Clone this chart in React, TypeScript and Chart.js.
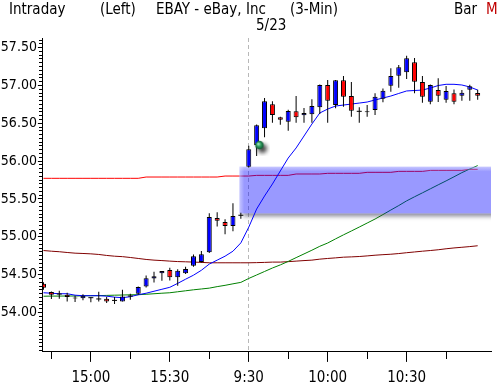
import React, { useEffect, useRef } from 'react';
import { Chart, registerables } from 'chart.js';

Chart.register(...registerables);

const FONT = "'DejaVu Sans Condensed', 'DejaVu Sans', sans-serif";

// 3-minute bars: end of 5/22 session, then 5/23 open
const times = [
  '14:42', '14:45', '14:48', '14:51', '14:54', '14:57', '15:00', '15:03', '15:06', '15:09',
  '15:12', '15:15', '15:18', '15:21', '15:24', '15:27', '15:30', '15:33', '15:36', '15:39',
  '15:42', '15:45', '15:48', '15:51', '15:54', '15:57',
  '9:30', '9:33', '9:36', '9:39', '9:42', '9:45', '9:48', '9:51', '9:54', '9:57',
  '10:00', '10:03', '10:06', '10:09', '10:12', '10:15', '10:18', '10:21', '10:24', '10:27',
  '10:30', '10:33', '10:36', '10:39', '10:42', '10:45', '10:48', '10:51', '10:54', '10:57',
];

const opens = [
  54.38, 54.27, 54.244, 54.235, 54.198, 54.189, 54.196, 54.179, 54.183, 54.16,
  54.147, 54.218, 54.248, 54.343, 54.448, 54.518, 54.561, 54.466, 54.518, 54.618,
  54.666, 54.796, 55.249, 55.196, 55.143, 55.285,
  55.927, 56.213, 56.434, 56.751, 56.579, 56.521, 56.658, 56.606, 56.619, 56.711,
  57.006, 56.741, 57.068, 56.861, 56.658, 56.646, 56.675, 56.825, 56.996, 57.129,
  57.173, 57.306, 57.046, 56.785, 56.939, 56.812, 56.896, 56.864, 56.943, 56.9,
];
const highs = [
  54.4, 54.278, 54.287, 54.26, 54.222, 54.241, 54.2, 54.274, 54.209, 54.205,
  54.3, 54.248, 54.344, 54.49, 54.54, 54.55, 54.591, 54.57, 54.605, 54.767,
  54.813, 55.311, 55.324, 55.232, 55.443, 55.319,
  56.204, 56.484, 56.834, 56.791, 56.588, 56.679, 56.86, 56.702, 56.816, 57.012,
  57.072, 57.072, 57.124, 57.046, 56.711, 56.741, 56.896, 56.961, 57.227, 57.27,
  57.393, 57.362, 57.124, 57.013, 57.094, 56.993, 56.948, 56.939, 57.01, 56.943,
];
const lows = [
  54.3, 54.18, 54.183, 54.147, 54.14, 54.163, 54.135, 54.144, 54.127, 54.114,
  54.144, 54.17, 54.235, 54.33, 54.396, 54.418, 54.422, 54.353, 54.509, 54.605,
  54.657, 54.787, 55.135, 55.034, 55.073, 55.24,
  55.916, 56.068, 56.315, 56.508, 56.481, 56.402, 56.508, 56.508, 56.508, 56.623,
  56.508, 56.698, 56.719, 56.588, 56.508, 56.588, 56.61, 56.778, 56.917, 56.97,
  57.085, 56.896, 56.772, 56.751, 56.782, 56.772, 56.751, 56.799, 56.799, 56.812,
];
const closes = [
  54.326, 54.235, 54.244, 54.205, 54.185, 54.222, 54.196, 54.179, 54.147, 54.16,
  54.213, 54.218, 54.336, 54.453, 54.479, 54.548, 54.466, 54.552, 54.574, 54.744,
  54.77, 55.262, 55.213, 55.143, 55.275, 55.285,
  56.157, 56.473, 56.791, 56.61, 56.547, 56.662, 56.579, 56.636, 56.728, 57.006,
  56.799, 57.068, 56.851, 56.666, 56.658, 56.659, 56.851, 56.93, 57.124, 57.24,
  57.358, 57.05, 56.851, 57.006, 56.864, 56.926, 56.785, 56.904, 56.988, 56.864,
];

// moving averages
const maFast = [
  54.261, 54.255, 54.248, 54.248, 54.229, 54.222, 54.222, 54.222, 54.216, 54.203,
  54.196, 54.209, 54.235, 54.255, 54.281, 54.307, 54.333, 54.385, 54.44, 54.493,
  54.558, 54.64, 54.692, 54.744, 54.81, 54.92,
  55.127, 55.367, 55.539, 55.698, 55.87, 56.041, 56.174, 56.332, 56.49, 56.636,
  56.688, 56.728, 56.741, 56.754, 56.767, 56.781, 56.808, 56.834, 56.86, 56.894,
  56.927, 56.933, 56.939, 56.966, 56.999, 57.015, 57.015, 57.006, 56.98, 56.939,
];
const maMid = [
  54.215, 54.217, 54.217, 54.218, 54.218, 54.221, 54.222, 54.223, 54.226, 54.229,
  54.231, 54.234, 54.235, 54.241, 54.248, 54.255, 54.261, 54.274, 54.287, 54.3,
  54.311, 54.322, 54.342, 54.359, 54.379, 54.398,
  54.45, 54.496, 54.542, 54.588, 54.629, 54.675, 54.725, 54.774, 54.823, 54.875,
  54.918, 54.973, 55.026, 55.077, 55.129, 55.182, 55.235, 55.294, 55.354, 55.413,
  55.475, 55.529, 55.581, 55.634, 55.687, 55.739, 55.793, 55.848, 55.896, 55.941,
];
const maSlow = [
  54.819, 54.81, 54.803, 54.793, 54.784, 54.78, 54.775, 54.767, 54.754, 54.744,
  54.738, 54.727, 54.714, 54.701, 54.692, 54.686, 54.679, 54.673, 54.67, 54.666,
  54.662, 54.657, 54.657, 54.657, 54.657, 54.657,
  54.657, 54.659, 54.662, 54.666, 54.666, 54.672, 54.679, 54.686, 54.692, 54.705,
  54.714, 54.722, 54.731, 54.735, 54.74, 54.748, 54.757, 54.764, 54.77, 54.779,
  54.79, 54.8, 54.81, 54.819, 54.829, 54.842, 54.853, 54.862, 54.871, 54.882,
];
const maLong = [
  55.773, 55.773, 55.773, 55.773, 55.773, 55.773, 55.773, 55.773, 55.773, 55.773,
  55.773, 55.773, 55.773, 55.79, 55.79, 55.79, 55.79, 55.79, 55.79, 55.79,
  55.79, 55.79, 55.79, 55.803, 55.803, 55.803,
  55.803, 55.812, 55.812, 55.812, 55.812, 55.812, 55.83, 55.83, 55.83, 55.83,
  55.839, 55.839, 55.839, 55.839, 55.839, 55.852, 55.852, 55.852, 55.852, 55.865,
  55.865, 55.865, 55.865, 55.878, 55.878, 55.878, 55.878, 55.878, 55.892, 55.892,
];

// overnight gap zone
const gapTop = 55.927;
const gapBottom = 55.309;
const gapStart = 24.8;
const gapEnd = 60;

// signal marker
const signalX = 27.35;
const signalPrice = 56.213;

// axes
const yTickValues = [54.0, 54.5, 55.0, 55.5, 56.0, 56.5, 57.0, 57.5];
const yMin = 53.4796;
const yMax = 57.6268;
const xMin = -0.075;
const xMax = 56.6875;

const majorIdx: number[] = [];
const minorIdx: number[] = [];
times.forEach((t, i) => {
  const m = t.split(':')[1];
  if (m === '00' || m === '30') majorIdx.push(i);
  else if (m === '15' || m === '45') minorIdx.push(i);
});
const sessionBreak = times.indexOf('9:30');

function makeSignalSprite() {
  const c = document.createElement('canvas');
  c.width = 22;
  c.height = 22;
  const g = c.getContext('2d')!;
  g.filter = 'blur(2px)';
  g.fillStyle = 'rgba(0,0,0,0.75)';
  g.beginPath();
  g.arc(14, 14.5, 4.5, 0, Math.PI * 2);
  g.fill();
  g.filter = 'none';
  const grad = g.createRadialGradient(9.8, 9.8, 0.3, 11, 11, 4.6);
  grad.addColorStop(0, '#a8f0c0');
  grad.addColorStop(0.45, '#2f9a5e');
  grad.addColorStop(1, '#0b4d2a');
  g.fillStyle = grad;
  g.beginPath();
  g.arc(11, 11, 4.3, 0, Math.PI * 2);
  g.fill();
  return c;
}

const minorTicks = {
  id: 'minorTicks',
  afterDraw(chart: any) {
    const { ctx, chartArea, scales } = chart;
    const xs = scales.x;
    const ys = scales.y;
    ctx.save();
    ctx.strokeStyle = '#000';
    ctx.lineWidth = 1;
    ctx.beginPath();
    const axisY = Math.round(chartArea.bottom - 0.5);
    minorIdx.forEach((i) => {
      const px = Math.round(xs.getPixelForValue(i) - 0.5) + 0.5;
      ctx.moveTo(px, axisY);
      ctx.lineTo(px, axisY + 8);
    });
    const axisX = Math.round(chartArea.left - 0.5);
    const k0 = Math.ceil(yMin / 0.05);
    const k1 = Math.floor(yMax / 0.05);
    for (let k = k0; k <= k1; k++) {
      if (k % 10 === 0 && k * 0.05 >= 53.9) continue;
      const py = Math.round(ys.getPixelForValue(k * 0.05) - 0.5) + 0.5;
      ctx.moveTo(axisX - 3, py);
      ctx.lineTo(axisX + 1, py);
    }
    ctx.stroke();
    ctx.restore();
  },
};

const gapDecor = {
  id: 'gapDecor',
  afterDatasetDraw(chart: any, args: any) {
    if (chart.data.datasets[args.index].label !== 'gap') return;
    const { ctx, chartArea, scales } = chart;
    const x0 = scales.x.getPixelForValue(gapStart);
    const x1 = chartArea.right;
    const yT = scales.y.getPixelForValue(gapTop);
    const yB = scales.y.getPixelForValue(gapBottom);
    ctx.save();
    ctx.beginPath();
    ctx.rect(chartArea.left, yB, chartArea.right - chartArea.left, 10);
    ctx.clip();
    ctx.filter = 'blur(2px)';
    ctx.fillStyle = 'rgba(50,50,80,0.55)';
    ctx.fillRect(x0 + 4, yB - 6, x1 - x0 + 10, 9);
    ctx.restore();
    ctx.save();
    ctx.beginPath();
    ctx.rect(chartArea.left, chartArea.top, chartArea.right - chartArea.left, chartArea.bottom - chartArea.top);
    ctx.clip();
    let g = ctx.createLinearGradient(0, yT, 0, yT + 5);
    g.addColorStop(0, 'rgba(255,255,255,0.45)');
    g.addColorStop(1, 'rgba(255,255,255,0)');
    ctx.fillStyle = g;
    ctx.fillRect(x0, yT, x1 - x0, 5);
    g = ctx.createLinearGradient(x0, 0, x0 + 5, 0);
    g.addColorStop(0, 'rgba(255,255,255,0.45)');
    g.addColorStop(1, 'rgba(255,255,255,0)');
    ctx.fillStyle = g;
    ctx.fillRect(x0, yT, 5, yB - yT);
    ctx.restore();
  },
};

export default function App() {
  const ref = useRef<HTMLCanvasElement>(null);

  useEffect(() => {
    const canvas = ref.current;
    if (!canvas) return;
    const sprite = makeSignalSprite();
    const idx = times.map((_, i) => i);
    const isDoji = (i: number) => opens[i] === closes[i];
    const bodyIdx = idx.filter((i) => !isDoji(i));
    const dojiIdx = idx.filter((i) => isDoji(i));
    const lineDs = (label: string, values: number[], color: string, order: number) => ({
      type: 'line',
      label,
      data: idx.map((i) => ({ x: i, y: values[i] })),
      borderColor: color,
      borderWidth: 1,
      pointRadius: 0,
      tension: 0,
      fill: false,
      order,
    });

    const chart = new Chart(canvas, {
      type: 'line',
      data: {
        datasets: [
          lineDs('maLong', maLong, '#ff0000', 10),
          lineDs('maSlow', maSlow, '#800000', 9),
          lineDs('maMid', maMid, '#008000', 8),
          {
            type: 'line',
            label: 'gap',
            data: [
              { x: gapStart, y: gapTop },
              { x: gapEnd, y: gapTop },
            ],
            fill: { value: gapBottom },
            backgroundColor: 'rgba(0,0,255,0.4)',
            borderColor: 'rgba(0,0,0,0)',
            borderWidth: 0,
            pointRadius: 0,
            order: 7,
          },
          lineDs('maFast', maFast, '#0000ff', 6),
          {
            type: 'bar',
            label: 'wicks',
            data: idx.map((i) => ({ x: i, y: [lows[i], highs[i]] })),
            backgroundColor: '#000',
            borderWidth: 0,
            barThickness: 1,
            grouped: false,
            inflateAmount: 0,
            clip: 0,
            order: 5,
          },
          {
            type: 'bar',
            label: 'bodies',
            data: bodyIdx.map((i) => ({ x: i, y: [opens[i], closes[i]] })),
            backgroundColor: bodyIdx.map((i) => (closes[i] > opens[i] ? '#0000ff' : '#ff0000')),
            borderColor: '#000',
            borderWidth: 1,
            borderSkipped: false,
            barThickness: 5,
            grouped: false,
            inflateAmount: 0,
            clip: 0,
            order: 4,
          },
          {
            type: 'line',
            label: 'doji',
            data: dojiIdx.map((i) => ({ x: i, y: opens[i] })),
            showLine: false,
            pointStyle: 'line',
            pointRadius: 2.5,
            pointBorderColor: '#000',
            pointBorderWidth: 1,
            borderColor: '#000',
            order: 3,
          },
          {
            type: 'line',
            label: 'signal',
            data: [{ x: signalX, y: signalPrice }],
            showLine: false,
            pointStyle: sprite,
            pointRadius: 5,
            order: 2,
          },
        ] as any,
      },
      options: {
        responsive: false,
        animation: false,
        events: [],
        layout: { padding: { top: 38, left: 0, right: 0, bottom: 0 } },
        plugins: {
          legend: { display: false },
          tooltip: { enabled: false },
          title: { display: false },
        },
        scales: {
          x: {
            type: 'linear',
            offset: false,
            min: xMin,
            max: xMax,
            afterBuildTicks: (s: any) => {
              s.ticks = majorIdx.map((v) => ({ value: v }));
            },
            afterFit: (s: any) => {
              s.height = 36.1;
            },
            ticks: {
              callback: (v: any) => times[v] ?? '',
              font: { family: FONT, size: 15 },
              color: '#000',
              padding: 7,
              maxRotation: 0,
              autoSkip: false,
            },
            grid: {
              offset: false,
              color: (c: any) => (c.tick && c.tick.value === sessionBreak ? '#b8b8b8' : 'rgba(0,0,0,0)'),
              lineWidth: 1,
              tickColor: '#000',
              tickLength: 10,
              tickWidth: 1,
              drawOnChartArea: true,
            },
            border: { color: '#000', width: 1, dash: [4, 3] },
          },
          y: {
            type: 'linear',
            min: yMin,
            max: yMax,
            afterBuildTicks: (s: any) => {
              s.ticks = yTickValues.map((v) => ({ value: v }));
            },
            afterFit: (s: any) => {
              s.width = 42.9;
            },
            ticks: {
              callback: (v: any) => Number(v).toFixed(2),
              font: { family: FONT, size: 14 },
              color: '#000',
              padding: 1,
            },
            grid: {
              drawOnChartArea: false,
              tickColor: '#000',
              tickLength: 5,
              tickWidth: 1,
            },
            border: { color: '#000', width: 1 },
          },
        },
      } as any,
      plugins: [minorTicks, gapDecor],
    });
    return () => chart.destroy();
  }, []);

  const txt: React.CSSProperties = { position: 'absolute', whiteSpace: 'pre', top: 2 };
  return (
    <div
      style={{
        position: 'absolute',
        left: 0,
        top: 0,
        width: 497,
        height: 388,
        overflow: 'hidden',
        background: '#fff',
        fontFamily: FONT,
        fontSize: 15,
        lineHeight: '15px',
        color: '#000',
      }}
    >
      <canvas ref={ref} width={497} height={388} style={{ position: 'absolute', left: 0, top: 0, display: 'block' }} />
      <span style={{ ...txt, left: 9 }}>Intraday</span>
      <span style={{ ...txt, left: 100 }}>(Left)</span>
      <span style={{ ...txt, left: 156 }}>EBAY - eBay, Inc</span>
      <span style={{ ...txt, left: 290 }}>(3-Min)</span>
      <span style={{ ...txt, left: 256, top: 18 }}>5/23</span>
      <span style={{ ...txt, left: 454 }}>Bar</span>
      <span style={{ ...txt, left: 486, color: '#c00000' }}>M</span>
    </div>
  );
}
